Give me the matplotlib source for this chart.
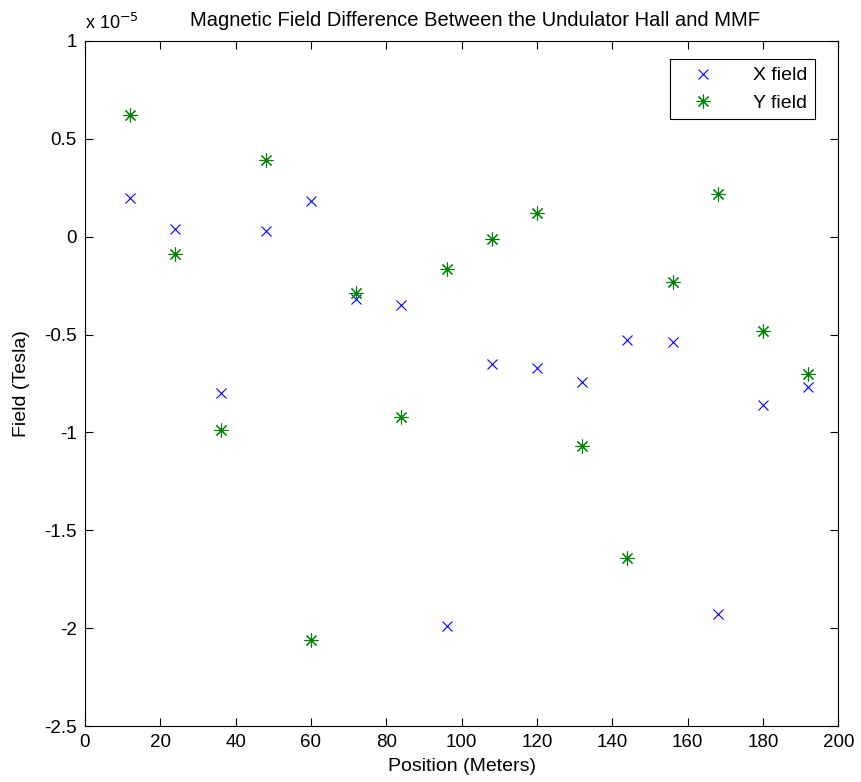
import matplotlib
matplotlib.use("Agg")
import matplotlib.pyplot as plt

plt.rcParams['font.family'] = ['Liberation Sans', 'DejaVu Sans']

# positions along the hall (m) and field differences in units of 1e-5 T
position = [12, 24, 36, 48, 60, 72, 84, 96, 108, 120, 132, 144, 156, 168, 180, 192]
x_field = [0.20, 0.04, -0.80, 0.03, 0.18, -0.32, -0.35, -1.99,
           -0.65, -0.67, -0.74, -0.53, -0.54, -1.93, -0.86, -0.77]
y_field = [0.62, -0.09, -0.99, 0.39, -2.06, -0.29, -0.92, -0.165,
           -0.01, 0.12, -1.07, -1.64, -0.23, 0.22, -0.48, -0.70]

x_ticks = list(range(0, 201, 20))
y_ticks = [1, 0.5, 0, -0.5, -1, -1.5, -2, -2.5]

fig = plt.figure(figsize=(8.61, 7.82), dpi=100)
ax = fig.add_axes([0.0987, 0.0716, 0.875, 0.876])

ax.plot(position, x_field, linestyle='none', marker='x', color='#0000ff',
        markersize=7, markeredgewidth=0.8, label='X field')
ax.plot(position, y_field, linestyle='none', marker=(8, 2, 0), color='#008000',
        markersize=10, markeredgewidth=0.8, label='Y field')

ax.set_xlim(0, 200)
ax.set_ylim(-2.5, 1)
ax.set_xticks(x_ticks)
ax.set_yticks(y_ticks)
ax.set_yticklabels([f"{t:g}" for t in y_ticks])
ax.tick_params(direction='in', top=True, right=True, length=6, width=0.8, labelsize=13.5)
ax.tick_params(axis='x', pad=6)
ax.tick_params(axis='y', pad=6)
for s in ax.spines.values():
    s.set_linewidth(0.8)

ax.set_xlabel("Position (Meters)", fontsize=14, labelpad=5)
ax.set_ylabel("Field (Tesla)", fontsize=14, labelpad=10)
ax.set_title("Magnetic Field Difference Between the Undulator Hall and MMF",
             fontsize=14.5, pad=11, x=0.518)
ax.text(0.0, 1.012, r"x 10$^{-5}$", transform=ax.transAxes, fontsize=13, ha='left', va='bottom')

leg = ax.legend(loc='upper right', bbox_to_anchor=(0.9695, 0.9737), fontsize=14,
                fancybox=False, edgecolor='black', framealpha=1, borderaxespad=0,
                handlelength=2.6, handletextpad=1.3, borderpad=0.4, labelspacing=0.5)
leg.get_frame().set_linewidth(0.8)

fig.savefig("out.png", dpi=100)
